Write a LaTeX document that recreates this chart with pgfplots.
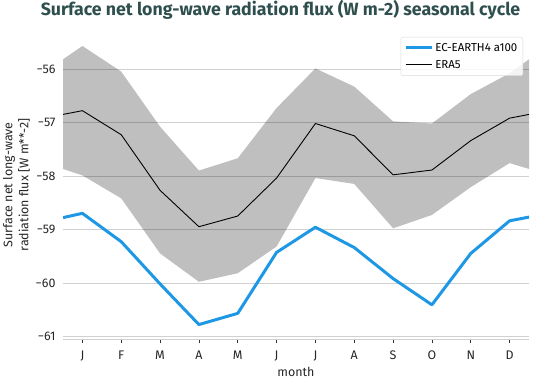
\documentclass[border=0pt]{standalone}
\usepackage{pgfplots}
\pgfplotsset{compat=1.18}
\usepackage{fontspec}
\setmainfont{Fira Sans}
\definecolor{ecblue}{RGB}{30,152,228}
\definecolor{titlecol}{RGB}{47,79,79}
\definecolor{gridc}{RGB}{208,208,208}
\begin{document}
\begin{tikzpicture}[x=1bp,y=1bp]
\path[use as bounding box] (0,0) rectangle (551,380);
\node[font=\bfseries\fontsize{17.8}{20}\selectfont, text=titlecol] at (280.5,370) {Surface net long-wave radiation flux (W m-2) seasonal cycle};
\begin{axis}[
  at={(63bp,41bp)}, anchor=south west,
  scale only axis, width=466bp, height=308bp,
  xmin=0.5, xmax=12.5, ymin=-61.05, ymax=-55.29,
  xtick={1,...,12}, xticklabels={J,F,M,A,M,J,J,A,S,O,N,D},
  ytick={-61,-60,-59,-58,-57,-56}, yticklabels={−61,−60,−59,−58,−57,−56},
  ymajorgrids, grid style={gridc, line width=0.7bp},
  axis lines*=left,
  x axis line style={gridc, line width=0.7bp, -},
  y axis line style={draw=none},
  xtick style={draw=black!80, line width=0.8pt},
  major tick length=4bp, tick align=outside,
  ytick style={draw=none},
  tick label style={font=\fontsize{12.5}{14}\selectfont, text=black!85},
  xticklabel style={yshift=-4bp},
  xlabel={month},
  xlabel style={font=\fontsize{12.5}{14}\selectfont, text=black!85, inner sep=0pt, at={(axis description cs:0.5,0)}, anchor=center, yshift=-33bp},
  ylabel={Surface net long-wave\\radiation flux [W m**-2]},
  ylabel style={font=\fontsize{12.5}{16}\selectfont, text=black!85, align=center, inner sep=0pt, at={(axis description cs:-0.0708,0.5)}, anchor=south},
  legend style={at={(1,1)}, anchor=north east, xshift=-6bp, yshift=-6bp, draw=black!15, rounded corners=2bp, fill=white, fill opacity=0.85, text opacity=1, font=\fontsize{11.5}{13}\selectfont, inner sep=3.5bp, row sep=2.5bp, nodes={inner sep=2bp, text height=8.5bp, text depth=2bp}},
  legend cell align=left,
  legend image code/.code={\draw[#1] (0bp,0bp) -- (26bp,0bp);},
]
\addplot[draw=none, fill=black, fill opacity=0.25, forget plot] coordinates {
 (0.5,-55.82)(1,-55.57)(2,-56.05)(3,-57.08)(4,-57.90)(5,-57.67)(6,-56.73)(7,-55.99)(8,-56.33)(9,-56.98)(10,-57.02)(11,-56.47)(12,-56.08)(12.5,-55.82)
 (12.5,-57.87)(12,-57.76)(11,-58.21)(10,-58.73)(9,-58.98)(8,-58.15)(7,-58.04)(6,-59.32)(5,-59.82)(4,-59.98)(3,-59.45)(2,-58.42)(1,-57.99)(0.5,-57.87)
} -- cycle;
\addplot[ecblue, line width=3bp, line join=round] coordinates {
 (0.5,-58.78)(1,-58.70)(2,-59.23)(3,-60.02)(4,-60.78)(5,-60.57)(6,-59.43)(7,-58.96)(8,-59.34)(9,-59.92)(10,-60.41)(11,-59.45)(12,-58.84)(12.5,-58.77)
};
\addlegendentry{EC-EARTH4 a100}
\addplot[black, line width=0.9bp, line join=round] coordinates {
 (0.5,-56.85)(1,-56.78)(2,-57.23)(3,-58.27)(4,-58.95)(5,-58.75)(6,-58.04)(7,-57.02)(8,-57.25)(9,-57.98)(10,-57.89)(11,-57.34)(12,-56.92)(12.5,-56.85)
};
\addlegendentry{ERA5}
\end{axis}
\end{tikzpicture}
\end{document}
